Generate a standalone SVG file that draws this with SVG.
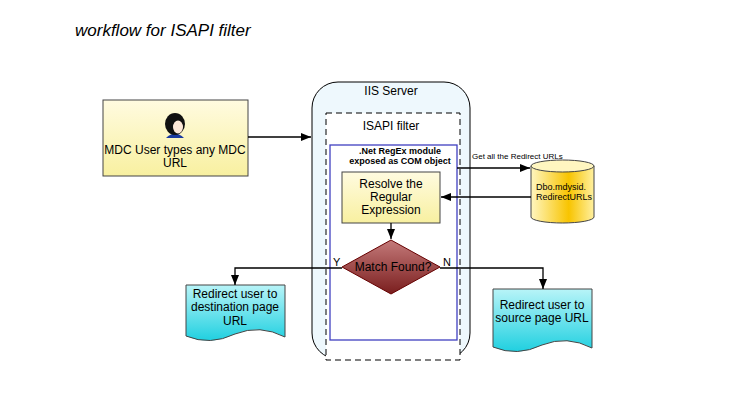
<svg xmlns="http://www.w3.org/2000/svg" width="753" height="406" viewBox="0 0 753 406">
<defs>
<marker id="ah" markerWidth="10" markerHeight="8" refX="10" refY="4" orient="auto" markerUnits="userSpaceOnUse"><path d="M0,0 L10,4 L0,8 Z" fill="#000"/></marker>
<linearGradient id="yel" x1="0" y1="0" x2="0" y2="1"><stop offset="0" stop-color="#fffbe0"/><stop offset="1" stop-color="#f8f0a0"/></linearGradient>
<linearGradient id="cyl" x1="0" y1="0" x2="1" y2="0"><stop offset="0" stop-color="#fff6c0"/><stop offset="0.6" stop-color="#f8c400"/><stop offset="1" stop-color="#fff0a0"/></linearGradient>
<linearGradient id="dia" x1="0" y1="0" x2="0" y2="1"><stop offset="0" stop-color="#c47a7a"/><stop offset="1" stop-color="#7a1e1e"/></linearGradient>
<linearGradient id="cy" x1="0" y1="0" x2="0" y2="1"><stop offset="0" stop-color="#b8f4f8"/><stop offset="1" stop-color="#20d0e0"/></linearGradient>
</defs>
<style>
text{font-family:"Liberation Sans",Arial,sans-serif;fill:#000}
.t{font-size:12px;text-anchor:middle}
.c{stroke:#000;stroke-width:1.3;fill:none}
</style>
<rect width="753" height="406" fill="#fff"/>
<text x="75" y="36" font-size="17" font-style="italic">workflow for ISAPI filter</text>
<g id="iis"><rect x="312" y="82" width="158" height="277" rx="26" fill="#eef8fd" stroke="#000"/><text class="t" x="391" y="95">IIS Server</text></g>
<g id="isapi"><rect x="326" y="113" width="134" height="247" fill="#fff" stroke="#000" stroke-dasharray="6,4"/><text class="t" x="391" y="130">ISAPI filter</text></g>
<g id="regex"><rect x="330" y="145" width="127" height="195" fill="#fff" stroke="#4040c0" stroke-width="1.3"/><text x="400" y="154" font-size="9" font-weight="bold" text-anchor="middle">.Net RegEx module</text><text x="400" y="164" font-size="9" font-weight="bold" text-anchor="middle">exposed as COM object</text></g>
<g id="user"><rect x="103" y="100" width="145" height="76" fill="url(#yel)" stroke="#444"/>
<path d="M166,138 Q175,129 184,138 Z" fill="#1a3aa0"/>
<ellipse cx="175" cy="124" rx="10" ry="11" fill="#111"/><ellipse cx="178" cy="127" rx="5" ry="6.5" fill="#fde8d8"/>
<text class="t" x="175" y="154">MDC User types any MDC</text><text class="t" x="175" y="167">URL</text></g>
<g id="resolve"><rect x="342" y="172" width="98" height="51" fill="url(#yel)" stroke="#444"/><text class="t" x="391" y="188">Resolve the</text><text class="t" x="391" y="201">Regular</text><text class="t" x="391" y="214">Expression</text></g>
<g id="db"><path d="M531,166 V217 A31.5,6 0 0 0 594,217 V166" fill="url(#cyl)" stroke="#444"/><ellipse cx="562.5" cy="166" rx="31.5" ry="6" fill="#fff6c0" stroke="#444"/><text x="536" y="190" font-size="9">Dbo.mdysid.</text><text x="536" y="200" font-size="9">RedirectURLs</text></g>
<g id="match"><path d="M391,240 L440,267 L391,294 L342,267 Z" fill="url(#dia)" stroke="#600"/><text class="t" x="393" y="271">Match Found?</text></g>
<g id="dest"><path d="M186,285 H285 V337 Q260,324 235,334 Q210,346 186,336 Z" fill="url(#cy)" stroke="#444"/><text class="t" x="235" y="298">Redirect user to</text><text class="t" x="235" y="311">destination page</text><text class="t" x="235" y="325">URL</text></g>
<g id="src"><path d="M493,289 H592 V348 Q567,335 542,345 Q517,357 493,347 Z" fill="url(#cy)" stroke="#444"/><text class="t" x="542" y="309">Redirect user to</text><text class="t" x="542" y="322">source page URL</text></g>
<g id="connectors">
<path class="c" d="M248,137 H311" marker-end="url(#ah)"/>
<path class="c" d="M457,168 H530" marker-end="url(#ah)"/>
<text x="472" y="159" font-size="8">Get all the Redirect URLs</text>
<path class="c" d="M531,197 H441" marker-end="url(#ah)"/>
<path class="c" d="M391,223 V239" marker-end="url(#ah)"/>
<path class="c" d="M342,268 H235 V285" marker-end="url(#ah)"/>
<path class="c" d="M440,268 H543 V289" marker-end="url(#ah)"/>
<text x="333" y="266" font-size="11">Y</text><text x="443" y="266" font-size="11">N</text>
</g>
</svg>
